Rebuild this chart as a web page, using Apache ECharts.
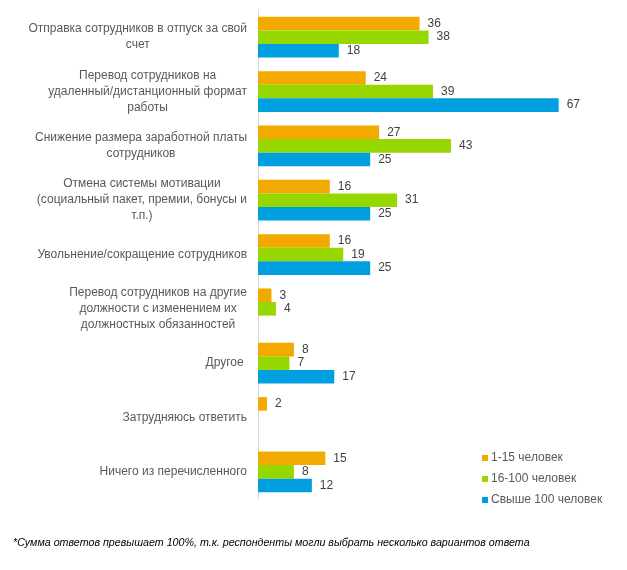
<!DOCTYPE html>
<html>
<head>
<meta charset="utf-8">
<script src="https://cdn.jsdelivr.net/npm/echarts@6/dist/echarts.min.js"></script>
<style>
html, body { margin: 0; padding: 0; background: #fff; }
#chart { width: 627px; height: 570px; }
</style>
</head>
<body>
<div id="chart"></div>
<script>
// категории (сверху вниз)
var categories = [
	"Отправка сотрудников в отпуск за свой\nсчет",
	"Перевод сотрудников на\nудаленный/дистанционный формат\nработы",
	"Снижение размера заработной платы\nсотрудников",
	"Отмена системы мотивации\n(социальный пакет, премии, бонусы и\nт.п.)",
	"Увольнение/сокращение сотрудников",
	"Перевод сотрудников на другие\nдолжности с изменением их\nдолжностных обязанностей",
	"Другое ",
	"Затрудняюсь ответить",
	"Ничего из перечисленного"
];
var seriesNames = ["1-15 человек", "16-100 человек", "Свыше 100 человек"];
var small = [36, 24, 27, 16, 16, 3, 8, 2, 15];
var medium = [38, 39, 43, 31, 19, 4, 7, "-", 8];
var large = [18, 67, 25, 25, 25, "-", 17, "-", 12];
var colors = ["#F2A900", "#97D700", "#009FDF"];
var footnote = "*Сумма ответов превышает 100%, т.к. респонденты могли выбрать несколько вариантов ответа";

var chart = echarts.init(document.getElementById("chart"));

function makeSeries(name, data, color) {
	return {
		name: name,
		type: "bar",
		data: data,
		barGap: "0%",
		barCategoryGap: "25%",
		itemStyle: { color: color },
		label: {
			show: true,
			position: "right",
			distance: 8,
			color: "#404040",
			fontSize: 12,
			fontFamily: "Liberation Sans, Arial, sans-serif"
		}
	};
}

var option = {
	animation: false,
	backgroundColor: "#fff",
	grid: { left: 258, top: 10, width: 359, height: 489, containLabel: false },
	legend: {
		orient: "vertical",
		left: 477,
		top: 447,
		itemWidth: 6,
		itemHeight: 6,
		itemGap: 9,
		icon: "rect",
		textStyle: { color: "#595959", fontSize: 12, fontFamily: "Liberation Sans, Arial, sans-serif", padding: [0, 0, 0, -2] },
		data: seriesNames
	},
	xAxis: {
		type: "value",
		min: 0,
		max: 80,
		show: false
	},
	yAxis: {
		type: "category",
		inverse: true,
		data: categories,
		axisLine: { show: true, lineStyle: { color: "#D9D9D9" } },
		axisTick: { show: false },
		axisLabel: {
			margin: 11,
			align: "right",
			formatter: function(v) {
				return v.split("\n").map(function(s) { return "{a|" + s + "}"; }).join("\n");
			},
			rich: {
				a: {
					align: "center",
					color: "#595959",
					fontSize: 12,
					lineHeight: 16,
					fontFamily: "Liberation Sans, Arial, sans-serif"
				}
			}
		}
	},
	graphic: [{
		type: "text",
		left: 13,
		top: 538,
		style: {
			text: footnote,
			fill: "#000",
			fontSize: 10.7,
			fontStyle: "italic",
			fontFamily: "Liberation Sans, Arial, sans-serif"
		}
	}],
	series: [
		makeSeries(seriesNames[0], small, colors[0]),
		makeSeries(seriesNames[1], medium, colors[1]),
		makeSeries(seriesNames[2], large, colors[2])
	]
};
chart.setOption(option);
</script>
</body>
</html>
